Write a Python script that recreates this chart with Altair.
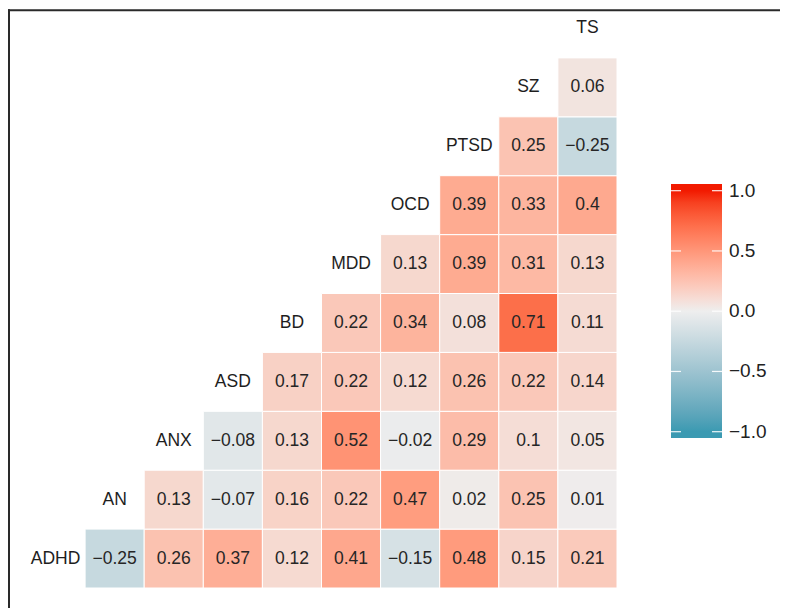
import altair as alt
import pandas as pd
import numpy as np

# ---------------- data ----------------
variables = ["ADHD", "AN", "ANX", "ASD", "BD", "MDD", "OCD", "PTSD", "SZ", "TS"]

# correlation of each row variable with every later variable (upper triangle)
corr_ADHD = [-0.25, 0.26, 0.37, 0.12, 0.41, -0.15, 0.48, 0.15, 0.21]
corr_AN = [0.13, -0.07, 0.16, 0.22, 0.47, 0.02, 0.25, 0.01]
corr_ANX = [-0.08, 0.13, 0.52, -0.02, 0.29, 0.1, 0.05]
corr_ASD = [0.17, 0.22, 0.12, 0.26, 0.22, 0.14]
corr_BD = [0.22, 0.34, 0.08, 0.71, 0.11]
corr_MDD = [0.13, 0.39, 0.31, 0.13]
corr_OCD = [0.39, 0.33, 0.4]
corr_PTSD = [0.25, -0.25]
corr_SZ = [0.06]

rows_corr = [corr_ADHD, corr_AN, corr_ANX, corr_ASD, corr_BD,
             corr_MDD, corr_OCD, corr_PTSD, corr_SZ]

legend_values = [1.0, 0.5, 0.0, -0.5, -1.0]

low_col, mid_col, high_col = "#3B9AB2", "#EEEEEE", "#F21A00"


def fmt(v):
    return f"{v:g}".replace("-", "\u2212")


records = []
for i, row in enumerate(rows_corr):
    for k, v in enumerate(row):
        c = i + 1 + k
        records.append({"row": variables[i], "col": variables[c], "r": v, "label": fmt(v)})
cells = pd.DataFrame(records)
diag = pd.DataFrame({"var": variables})
legend_df = pd.DataFrame({"v": legend_values,
                          "label": [f"{v:.1f}".replace("-", "\u2212") for v in legend_values]})

# ---------------- Lab interpolation for the colourbar gradient ----------------
M = np.array([[0.4124, 0.3576, 0.1805], [0.2126, 0.7152, 0.0722], [0.0193, 0.1192, 0.9505]])
Minv = np.linalg.inv(M)
WHITE = np.array([0.95047, 1.0, 1.08883])


def hex2lab(h):
    rgb = np.array([int(h[i:i + 2], 16) / 255 for i in (1, 3, 5)])
    lin = np.where(rgb <= 0.04045, rgb / 12.92, ((rgb + 0.055) / 1.055) ** 2.4)
    xyz = M @ lin / WHITE
    f = np.where(xyz > 0.008856, np.cbrt(xyz), 7.787 * xyz + 16 / 116)
    return np.array([116 * f[1] - 16, 500 * (f[0] - f[1]), 200 * (f[1] - f[2])])


def lab2hex(lab):
    fy = (lab[0] + 16) / 116
    fx = fy + lab[1] / 500
    fz = fy - lab[2] / 200
    f = np.array([fx, fy, fz])
    xyz = np.where(f ** 3 > 0.008856, f ** 3, (f - 16 / 116) / 7.787) * WHITE
    lin = Minv @ xyz
    lin = np.clip(lin, 0, 1)
    rgb = np.where(lin <= 0.0031308, 12.92 * lin, 1.055 * lin ** (1 / 2.4) - 0.055)
    rgb = np.clip(np.round(rgb * 255), 0, 255).astype(int)
    return "#%02x%02x%02x" % tuple(rgb)


LAB_LOW, LAB_MID, LAB_HIGH = hex2lab(low_col), hex2lab(mid_col), hex2lab(high_col)


def colour_at(v):
    if v >= 0:
        return lab2hex(LAB_MID + (LAB_HIGH - LAB_MID) * v)
    return lab2hex(LAB_MID + (LAB_LOW - LAB_MID) * (-v))


# colourbar geometry (plot pixels)
BAR_X0, BAR_X1 = 663, 714
BAR_Y0, BAR_Y1 = 176, 430
V_TOP, V_BOT = 182.7, 423.7

stops = [alt.GradientStop(offset=0, color=high_col)]
for v in np.linspace(1, -1, 21):
    off = (V_TOP + (1 - v) / 2 * (V_BOT - V_TOP) - BAR_Y0) / (BAR_Y1 - BAR_Y0)
    stops.append(alt.GradientStop(offset=float(off), color=colour_at(float(v))))
stops.append(alt.GradientStop(offset=1, color=low_col))

# ---------------- scales ----------------
FONT = "Liberation Sans"
xs = alt.Scale(domain=variables, range=[18, 609], paddingInner=0, paddingOuter=0)
ys = alt.Scale(domain=variables[::-1], range=[-9, 580], paddingInner=0, paddingOuter=0)
ly = alt.Scale(domain=[-1, 1], range=[V_BOT, V_TOP])
cs = alt.Scale(domain=[-1, 0, 1], range=[low_col, mid_col, high_col], interpolate="lab")

tiles = alt.Chart(cells).mark_rect(stroke="white", strokeWidth=1).encode(
    x=alt.X("col:N", scale=xs, axis=None),
    y=alt.Y("row:N", scale=ys, axis=None),
    color=alt.Color("r:Q", scale=cs, legend=None),
)

values_text = alt.Chart(cells).mark_text(font=FONT, fontSize=17.5, color="#262626").encode(
    x=alt.X("col:N", scale=xs, axis=None),
    y=alt.Y("row:N", scale=ys, axis=None),
    text="label:N",
)

diag_text = alt.Chart(diag).mark_text(font=FONT, fontSize=17.5, color="#1e1e1e").encode(
    x=alt.X("var:N", scale=xs, axis=None),
    y=alt.Y("var:N", scale=ys, axis=None),
    text="var:N",
)

bar = alt.Chart(pd.DataFrame({"bar": [1]})).mark_rect(
    color=alt.LinearGradient(gradient="linear", stops=stops, x1=0, x2=0, y1=0, y2=1)
).encode(
    x=alt.value(BAR_X0), x2=alt.value(BAR_X1), y=alt.value(BAR_Y0), y2=alt.value(BAR_Y1)
)

ticks_left = alt.Chart(legend_df).mark_rule(color="white", strokeWidth=1.2, opacity=0.9).encode(
    y=alt.Y("v:Q", scale=ly, axis=None), x=alt.value(BAR_X0), x2=alt.value(BAR_X0 + 10)
)
ticks_right = alt.Chart(legend_df).mark_rule(color="white", strokeWidth=1.2, opacity=0.9).encode(
    y=alt.Y("v:Q", scale=ly, axis=None), x=alt.value(BAR_X1 - 10), x2=alt.value(BAR_X1)
)
legend_labels = alt.Chart(legend_df).mark_text(
    font=FONT, fontSize=19, color="#222222", align="left", baseline="middle"
).encode(
    y=alt.Y("v:Q", scale=ly, axis=None), x=alt.value(BAR_X1 + 7), text="label:N"
)

frame_df = pd.DataFrame({"f": [1]})
frame_top = alt.Chart(frame_df).mark_rule(color="#2a2a2a", strokeWidth=2).encode(
    x=alt.value(0), x2=alt.value(772), y=alt.value(2.3)
)
frame_left = alt.Chart(frame_df).mark_rule(color="#2a2a2a", strokeWidth=2).encode(
    x=alt.value(1), y=alt.value(1.3), y2=alt.value(600)
)

chart = alt.layer(
    tiles, values_text, diag_text, bar, ticks_left, ticks_right, legend_labels,
    frame_top, frame_left
).resolve_scale(y="independent").properties(
    width=772, height=600, padding=0, autosize="none", background="white"
).configure_view(stroke=None)

chart.save("out.html", embed_options={"renderer": "svg", "actions": False})
